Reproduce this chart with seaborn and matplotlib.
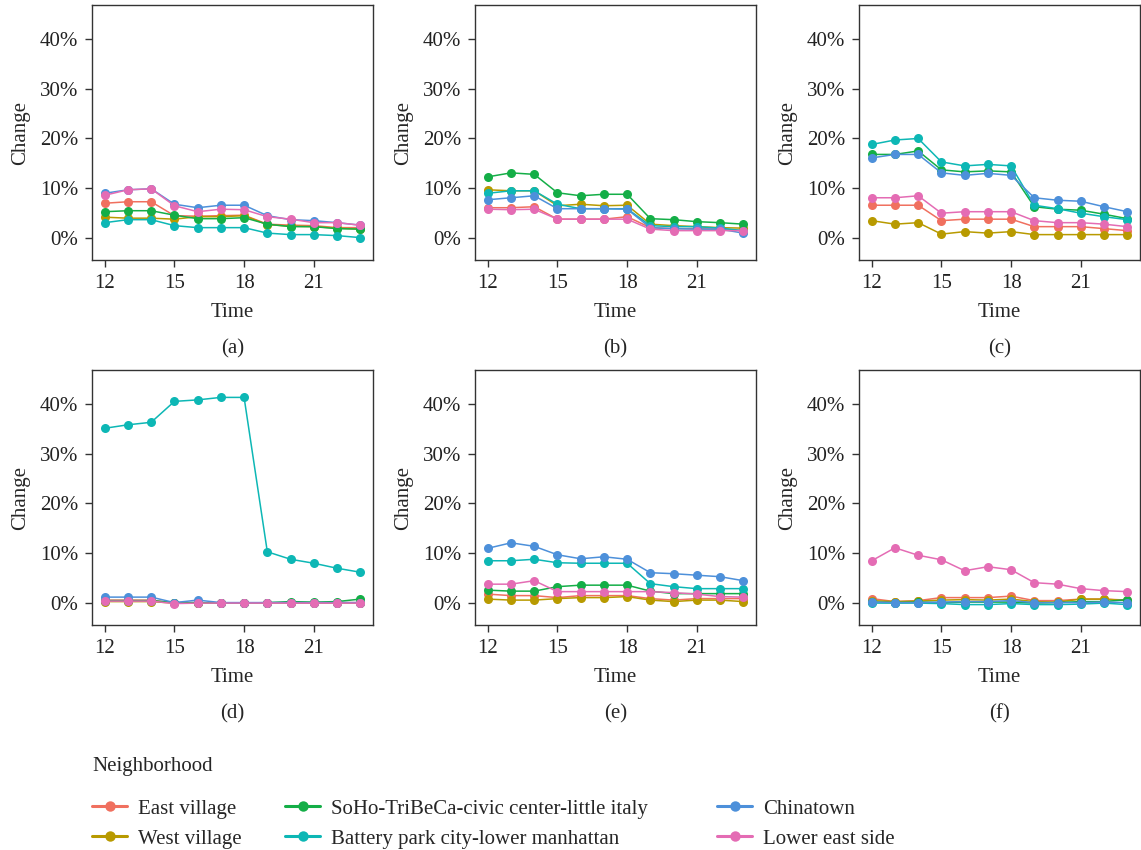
import matplotlib
matplotlib.use("Agg")
import matplotlib.pyplot as plt
from matplotlib.ticker import PercentFormatter
import seaborn as sns
import pandas as pd

hours = list(range(12, 24))
neighborhoods = ['East village', 'West village', 'SoHo-TriBeCa-civic center-little italy',
                 'Battery park city-lower manhattan', 'Chinatown', 'Lower east side']
colors = ['#F0705F', '#B89A00', '#14AE47', '#0DB7B5', '#4D90DA', '#E46CB4']
panel_labels = ['(a)', '(b)', '(c)', '(d)', '(e)', '(f)']

# change in percent, one list per neighborhood (same order as neighborhoods)
panel_a = [
    [7.0, 7.3, 7.3, 4.5, 4.4, 4.5, 4.6, 2.8, 2.6, 2.5, 2.1, 2.1],
    [4.2, 4.0, 4.0, 3.8, 4.3, 4.3, 4.5, 2.7, 2.4, 2.3, 2.0, 1.8],
    [5.3, 5.5, 5.5, 4.6, 3.9, 3.9, 4.1, 2.8, 2.3, 2.3, 1.9, 1.8],
    [3.1, 3.7, 3.7, 2.5, 2.1, 2.1, 2.1, 1.0, 0.7, 0.7, 0.5, 0.1],
    [9.0, 9.7, 9.9, 6.8, 6.1, 6.6, 6.6, 4.5, 3.7, 3.5, 3.1, 2.6],
    [8.6, 9.7, 9.9, 6.5, 5.3, 5.8, 5.7, 4.3, 3.8, 3.1, 3.1, 2.6],
]
panel_b = [
    [6.1, 6.1, 6.3, 3.8, 3.8, 3.8, 4.3, 2.1, 1.9, 1.9, 1.8, 1.5],
    [9.7, 9.5, 9.5, 6.5, 6.8, 6.5, 6.6, 2.8, 2.5, 2.3, 2.1, 2.0],
    [12.3, 13.1, 12.8, 9.1, 8.5, 8.8, 8.8, 3.9, 3.7, 3.3, 3.1, 2.8],
    [9.0, 9.5, 9.5, 6.8, 5.9, 5.9, 5.9, 2.5, 2.3, 2.3, 2.0, 1.5],
    [7.7, 8.1, 8.5, 5.9, 5.9, 5.9, 5.8, 2.1, 1.9, 1.8, 1.8, 1.0],
    [5.8, 5.7, 5.8, 3.8, 3.8, 3.8, 3.8, 1.8, 1.5, 1.5, 1.5, 1.5],
]
panel_c = [
    [6.6, 6.6, 6.6, 3.5, 3.8, 3.8, 3.8, 2.3, 2.3, 2.3, 1.9, 1.5],
    [3.5, 2.8, 3.1, 0.8, 1.3, 1.0, 1.3, 0.7, 0.7, 0.7, 0.7, 0.7],
    [16.8, 16.8, 17.5, 13.7, 13.3, 13.5, 13.3, 6.3, 5.8, 5.6, 4.8, 3.9],
    [18.8, 19.7, 20.0, 15.3, 14.5, 14.8, 14.5, 6.6, 5.9, 5.0, 4.3, 3.7],
    [16.1, 16.8, 16.8, 13.1, 12.6, 13.0, 12.6, 8.1, 7.6, 7.4, 6.3, 5.3],
    [8.1, 8.1, 8.5, 5.0, 5.3, 5.3, 5.3, 3.5, 3.1, 3.1, 2.8, 2.3],
]
panel_d = [
    [0.6, 0.6, 0.6, 0.0, 0.1, 0.0, 0.0, 0.0, 0.1, 0.0, 0.1, 0.1],
    [0.3, 0.3, 0.3, 0.0, 0.0, 0.0, 0.0, 0.0, 0.0, 0.0, 0.0, 0.0],
    [0.5, 0.5, 0.5, 0.1, 0.1, 0.0, 0.0, 0.1, 0.3, 0.2, 0.3, 0.8],
    [35.1, 35.8, 36.3, 40.5, 40.8, 41.3, 41.3, 10.3, 8.8, 8.0, 7.0, 6.2],
    [1.2, 1.2, 1.2, 0.1, 0.6, 0.1, 0.1, 0.1, 0.1, 0.1, 0.1, 0.1],
    [0.4, 0.4, 0.4, -0.1, 0.0, 0.0, 0.0, 0.0, 0.0, 0.0, 0.0, 0.0],
]
panel_e = [
    [1.8, 1.5, 1.5, 1.1, 1.5, 1.5, 1.5, 0.9, 0.6, 0.9, 0.9, 0.9],
    [0.8, 0.6, 0.6, 0.9, 1.1, 1.1, 1.3, 0.6, 0.3, 0.6, 0.6, 0.3],
    [2.6, 2.4, 2.4, 3.3, 3.6, 3.6, 3.6, 2.4, 1.9, 1.9, 1.9, 1.9],
    [8.5, 8.5, 8.8, 8.1, 8.0, 8.0, 8.0, 3.9, 3.3, 2.9, 2.9, 2.9],
    [11.0, 12.1, 11.4, 9.7, 8.9, 9.3, 8.8, 6.1, 5.9, 5.6, 5.3, 4.5],
    [3.8, 3.8, 4.5, 2.3, 2.3, 2.3, 2.3, 2.3, 2.1, 1.8, 1.3, 1.2],
]
panel_f = [
    [0.9, 0.3, 0.5, 1.1, 1.1, 1.1, 1.4, 0.5, 0.5, 0.8, 0.8, 0.6],
    [0.5, 0.3, 0.4, 0.6, 0.7, 0.6, 0.8, 0.3, 0.2, 0.8, 0.8, 0.5],
    [0.2, 0.1, 0.2, 0.1, 0.2, 0.2, 0.2, 0.0, 0.1, 0.3, 0.3, 0.7],
    [0.0, 0.0, 0.0, -0.1, -0.3, -0.3, -0.1, -0.3, -0.3, -0.2, 0.0, -0.3],
    [0.2, 0.1, 0.1, 0.2, 0.3, 0.3, 0.5, 0.1, 0.1, 0.1, 0.2, 0.1],
    [8.5, 11.1, 9.6, 8.7, 6.5, 7.3, 6.7, 4.1, 3.8, 2.9, 2.5, 2.3],
]
panels = [panel_a, panel_b, panel_c, panel_d, panel_e, panel_f]

rows = []
for p, panel in enumerate(panels):
    for name, vals in zip(neighborhoods, panel):
        for h, v in zip(hours, vals):
            rows.append({'Panel': panel_labels[p], 'Neighborhood': name, 'Time': h, 'Change': v})
df = pd.DataFrame(rows)

sns.set_theme(style='ticks')
plt.rcParams['font.family'] = ['Liberation Serif', 'DejaVu Serif']
plt.rcParams['axes.edgecolor'] = '#333333'
plt.rcParams['axes.linewidth'] = 1.0
plt.rcParams['xtick.color'] = '#333333'
plt.rcParams['ytick.color'] = '#333333'
plt.rcParams['xtick.labelcolor'] = '#222222'
plt.rcParams['ytick.labelcolor'] = '#222222'

fig = plt.figure(figsize=(11.41, 8.5), dpi=100)
lefts = [0.0806, 0.4163, 0.7528]
bottoms = [0.6941, 0.2647]
palette = dict(zip(neighborhoods, colors))

axes = []
for i, lab in enumerate(panel_labels):
    ax = fig.add_axes([lefts[i % 3], bottoms[i // 3], 0.2463, 0.300])
    sub = df[df['Panel'] == lab]
    sns.lineplot(data=sub, x='Time', y='Change', hue='Neighborhood', hue_order=neighborhoods,
                 palette=palette, marker='o', markersize=6.5, markeredgewidth=0,
                 linewidth=1.1, ax=ax, legend=(i == 0))
    ax.set_xlim(11.45, 23.55)
    ax.set_ylim(-4.4, 46.8)
    ax.set_xticks([12, 15, 18, 21])
    ax.set_yticks([0, 10, 20, 30, 40])
    ax.yaxis.set_major_formatter(PercentFormatter(xmax=100, decimals=0))
    ax.tick_params(labelsize=15, length=5, width=1.0, pad=5)
    ax.set_xlabel('Time', fontsize=15, labelpad=7)
    ax.set_ylabel('Change', fontsize=15, labelpad=7)
    for s in ax.spines.values():
        s.set_visible(True)
    ax.text(0.5, -0.35, lab, transform=ax.transAxes, ha='center', va='center', fontsize=15)
    axes.append(ax)

handles, labels = axes[0].get_legend_handles_labels()
axes[0].get_legend().remove()

fig.text(92 / 1141, 1 - 767 / 850, 'Neighborhood', fontsize=15, ha='left', va='center')
col_x = [92, 285, 717]
for c in range(3):
    leg = fig.legend(handles[2 * c:2 * c + 2], labels[2 * c:2 * c + 2],
                     loc='upper left', bbox_to_anchor=(col_x[c] / 1141, 1 - 799 / 850),
                     frameon=False, fontsize=15, handlelength=1.7, handletextpad=0.5,
                     labelspacing=0.5, borderpad=0, borderaxespad=0)
    for ln in leg.get_lines():
        ln.set_linewidth(2.2)
        ln.set_markersize(7.5)

fig.savefig('out.png', dpi=100)
